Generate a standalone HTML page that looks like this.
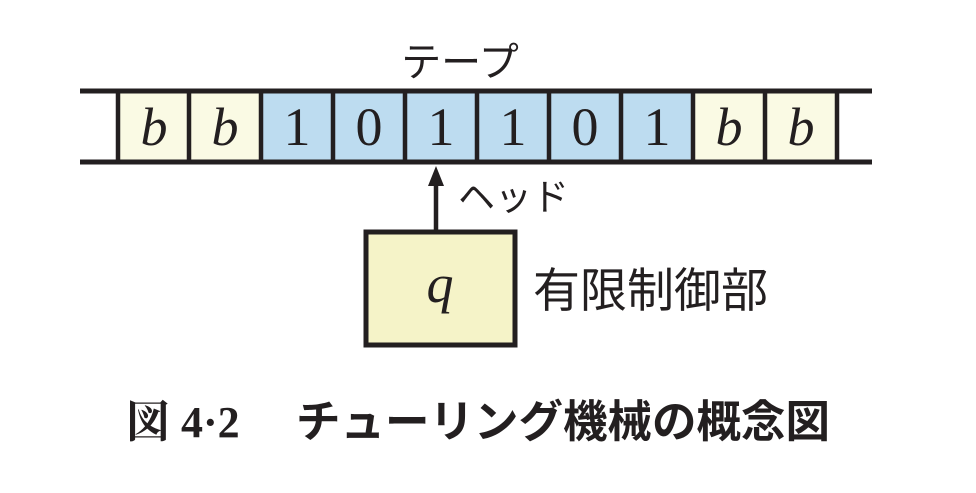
<!DOCTYPE html>
<html><head><meta charset="utf-8"><style>
body{margin:0;background:#fff;width:976px;height:488px;overflow:hidden}
</style></head><body>
<svg width="976" height="488" xmlns="http://www.w3.org/2000/svg">
<g>
<rect x="118" y="91" width="143" height="71" fill="#fafae4"/>
<rect x="261" y="91" width="432" height="71" fill="#bddcf0"/>
<rect x="693" y="91" width="144" height="71" fill="#fafae4"/>
<line x1="80" y1="91" x2="872" y2="91" stroke="#231f20" stroke-width="5"/>
<line x1="80" y1="162" x2="872" y2="162" stroke="#231f20" stroke-width="5"/>
<g stroke="#231f20" stroke-width="4.5">
<line x1="118" y1="91" x2="118" y2="162"/><line x1="189" y1="91" x2="189" y2="162"/>
<line x1="261" y1="91" x2="261" y2="162"/><line x1="333" y1="91" x2="333" y2="162"/>
<line x1="405" y1="91" x2="405" y2="162"/><line x1="477" y1="91" x2="477" y2="162"/>
<line x1="549" y1="91" x2="549" y2="162"/><line x1="621" y1="91" x2="621" y2="162"/>
<line x1="693" y1="91" x2="693" y2="162"/><line x1="765" y1="91" x2="765" y2="162"/>
<line x1="837" y1="91" x2="837" y2="162"/>
</g>
<g style="font-family:'Liberation Serif',serif" font-size="54" fill="#231f20" text-anchor="middle">
<text x="154" y="145" font-style="italic">b</text>
<text x="225" y="145" font-style="italic">b</text>
<text x="297" y="145">1</text><text x="369" y="145">0</text><text x="441" y="145">1</text>
<text x="513" y="145">1</text><text x="585" y="145">0</text><text x="657" y="145">1</text>
<text x="729" y="145" font-style="italic">b</text>
<text x="801" y="145" font-style="italic">b</text>
</g>
<line x1="436" y1="182" x2="436" y2="232" stroke="#231f20" stroke-width="4.5"/>
<polygon points="436,166 428,186 444,186" fill="#231f20"/>
<rect x="366" y="232" width="149" height="113" fill="#f5f3c8" stroke="#231f20" stroke-width="5"/>
<text x="440" y="302" style="font-family:'Liberation Serif',serif" font-style="italic" font-size="54" fill="#231f20" text-anchor="middle">q</text>
<g style="font-family:'Liberation Sans','Noto Sans CJK JP',sans-serif" fill="#231f20">
<text x="460" y="76" font-size="40" text-anchor="middle">テープ</text>
<text x="458" y="210" font-size="37">ヘッド</text>
<text x="533" y="307" font-size="47">有限制御部</text>
</g>
<text x="126" y="437" style="font-family:'Liberation Serif','Noto Serif CJK SC',serif" font-weight="bold" font-size="44" fill="#231f20">図 4·2</text>
<text x="296" y="437" style="font-family:'Liberation Sans','Noto Sans CJK JP',sans-serif" font-weight="bold" font-size="44.5" fill="#231f20">チューリング機械の概念図</text>
</g>
</svg>
</body></html>
